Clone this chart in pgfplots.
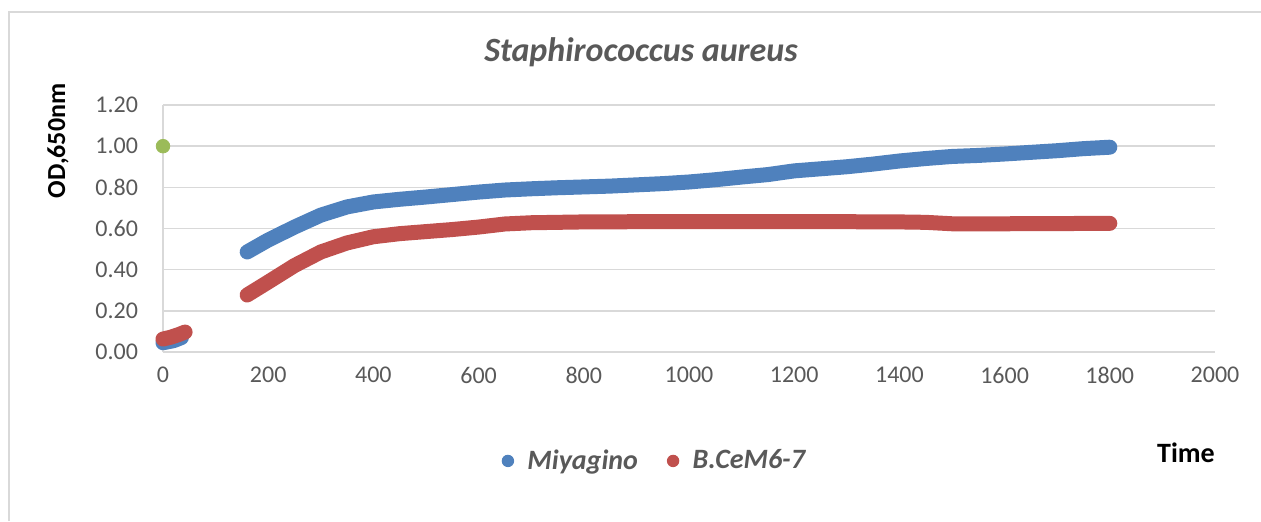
\documentclass[border=0pt]{standalone}
\usepackage{fontspec}
\setmainfont{Carlito}
\usepackage{pgfplots}
\pgfplotsset{compat=1.18}
\definecolor{mblue}{HTML}{4F81BD}
\definecolor{mred}{HTML}{C0504D}
\definecolor{mgreen}{HTML}{9BBB59}
\definecolor{txtgray}{HTML}{595959}
\definecolor{gridgray}{HTML}{D9D9D9}

\begin{document}
\begin{tikzpicture}
\useasboundingbox (0,0) rectangle (630.5pt,260.5pt);
% outer frame (only top and left edges fall inside the picture)
\draw[gridgray, line width=1pt] (4.5pt,0) -- (4.5pt,254.5pt) -- (630.5pt,254.5pt);

\begin{axis}[
  at={(81.5pt,84.5pt)}, anchor=south west,
  scale only axis, width=526pt, height=123.5pt,
  xmin=0, xmax=2000, ymin=0, ymax=1.2,
  xtick={0,200,...,2000}, ytick={0,0.2,...,1.2},
  yticklabel style={/pgf/number format/fixed,/pgf/number format/precision=2,
    /pgf/number format/fixed zerofill, xshift=-9pt},
  xticklabel style={yshift=-4pt},
  /pgf/number format/assume math mode=true,
  /pgf/number format/1000 sep={},
  tick label style={font=\fontsize{12}{14}\selectfont, text=txtgray},
  major tick length=0pt,
  axis x line=bottom, axis y line=left,
  axis line style={draw=gridgray, line width=0.8pt, -},
  ymajorgrids, grid style={gridgray, line width=0.8pt},
  clip=false,
  unbounded coords=jump,
  legend style={at={(0.468,-0.441)}, anchor=center, draw=none, fill=none,
    legend columns=2, font=\fontsize{14}{16}\selectfont\bfseries\itshape,
    text=txtgray,
    /tikz/every even column/.append style={column sep=12.5pt}},
]
\addplot[color=mblue, line width=7.5pt, line cap=round, line join=round,
  legend image code/.code={\path[fill=mblue, draw=none] (0pt,0pt) circle (3.1pt);
    \path (4pt,0pt);}]
  coordinates {
  (0,0.045)(20,0.055)(35,0.07)
  (100,nan)
  (160,0.486)(200,0.544)(250,0.607)(300,0.665)(350,0.705)(400,0.729)
  (450,0.742)(500,0.753)(550,0.765)(600,0.777)(650,0.787)(700,0.793)
  (750,0.798)(800,0.802)(850,0.806)(900,0.812)(950,0.818)(1000,0.826)
  (1050,0.837)(1100,0.85)(1150,0.862)(1200,0.88)(1250,0.89)(1300,0.90)
  (1350,0.913)(1400,0.928)(1450,0.94)(1500,0.95)(1550,0.955)(1600,0.962)
  (1650,0.97)(1700,0.978)(1750,0.988)(1800,0.995)
  };
\addlegendentry{Miyagino}
\addplot[color=mred, line width=7.5pt, line cap=round, line join=round,
  legend image code/.code={\path[fill=mred, draw=none] (0pt,0pt) circle (3.1pt);
    \path (4pt,0pt);}]
  coordinates {
  (0,0.063)(15,0.072)(30,0.085)(42,0.097)
  (100,nan)
  (160,0.277)(200,0.34)(250,0.42)(300,0.486)(350,0.53)(400,0.56)
  (450,0.575)(500,0.585)(550,0.595)(600,0.607)(650,0.622)(700,0.628)
  (800,0.632)(900,0.633)(1000,0.633)(1100,0.633)(1200,0.633)(1300,0.633)
  (1400,0.632)(1450,0.63)(1500,0.623)(1600,0.623)(1700,0.624)(1800,0.625)
  };
\addlegendentry{B.CeM6-7}
\addplot[only marks, mark=*, mark size=3.4pt, color=mgreen, forget plot]
  coordinates {(0,1.0)};
\end{axis}

\node[text=txtgray, font=\fontsize{17}{20}\selectfont\bfseries\itshape]
  at (320.5pt,234.5pt) {Staphirococcus aureus};
\node[rotate=90, font=\fontsize{13}{15}\selectfont\bfseries]
  at (29pt,190pt) {OD,650nm};
\node[font=\fontsize{14}{16}\selectfont\bfseries] at (593pt,34pt) {Time};
\end{tikzpicture}
\end{document}
